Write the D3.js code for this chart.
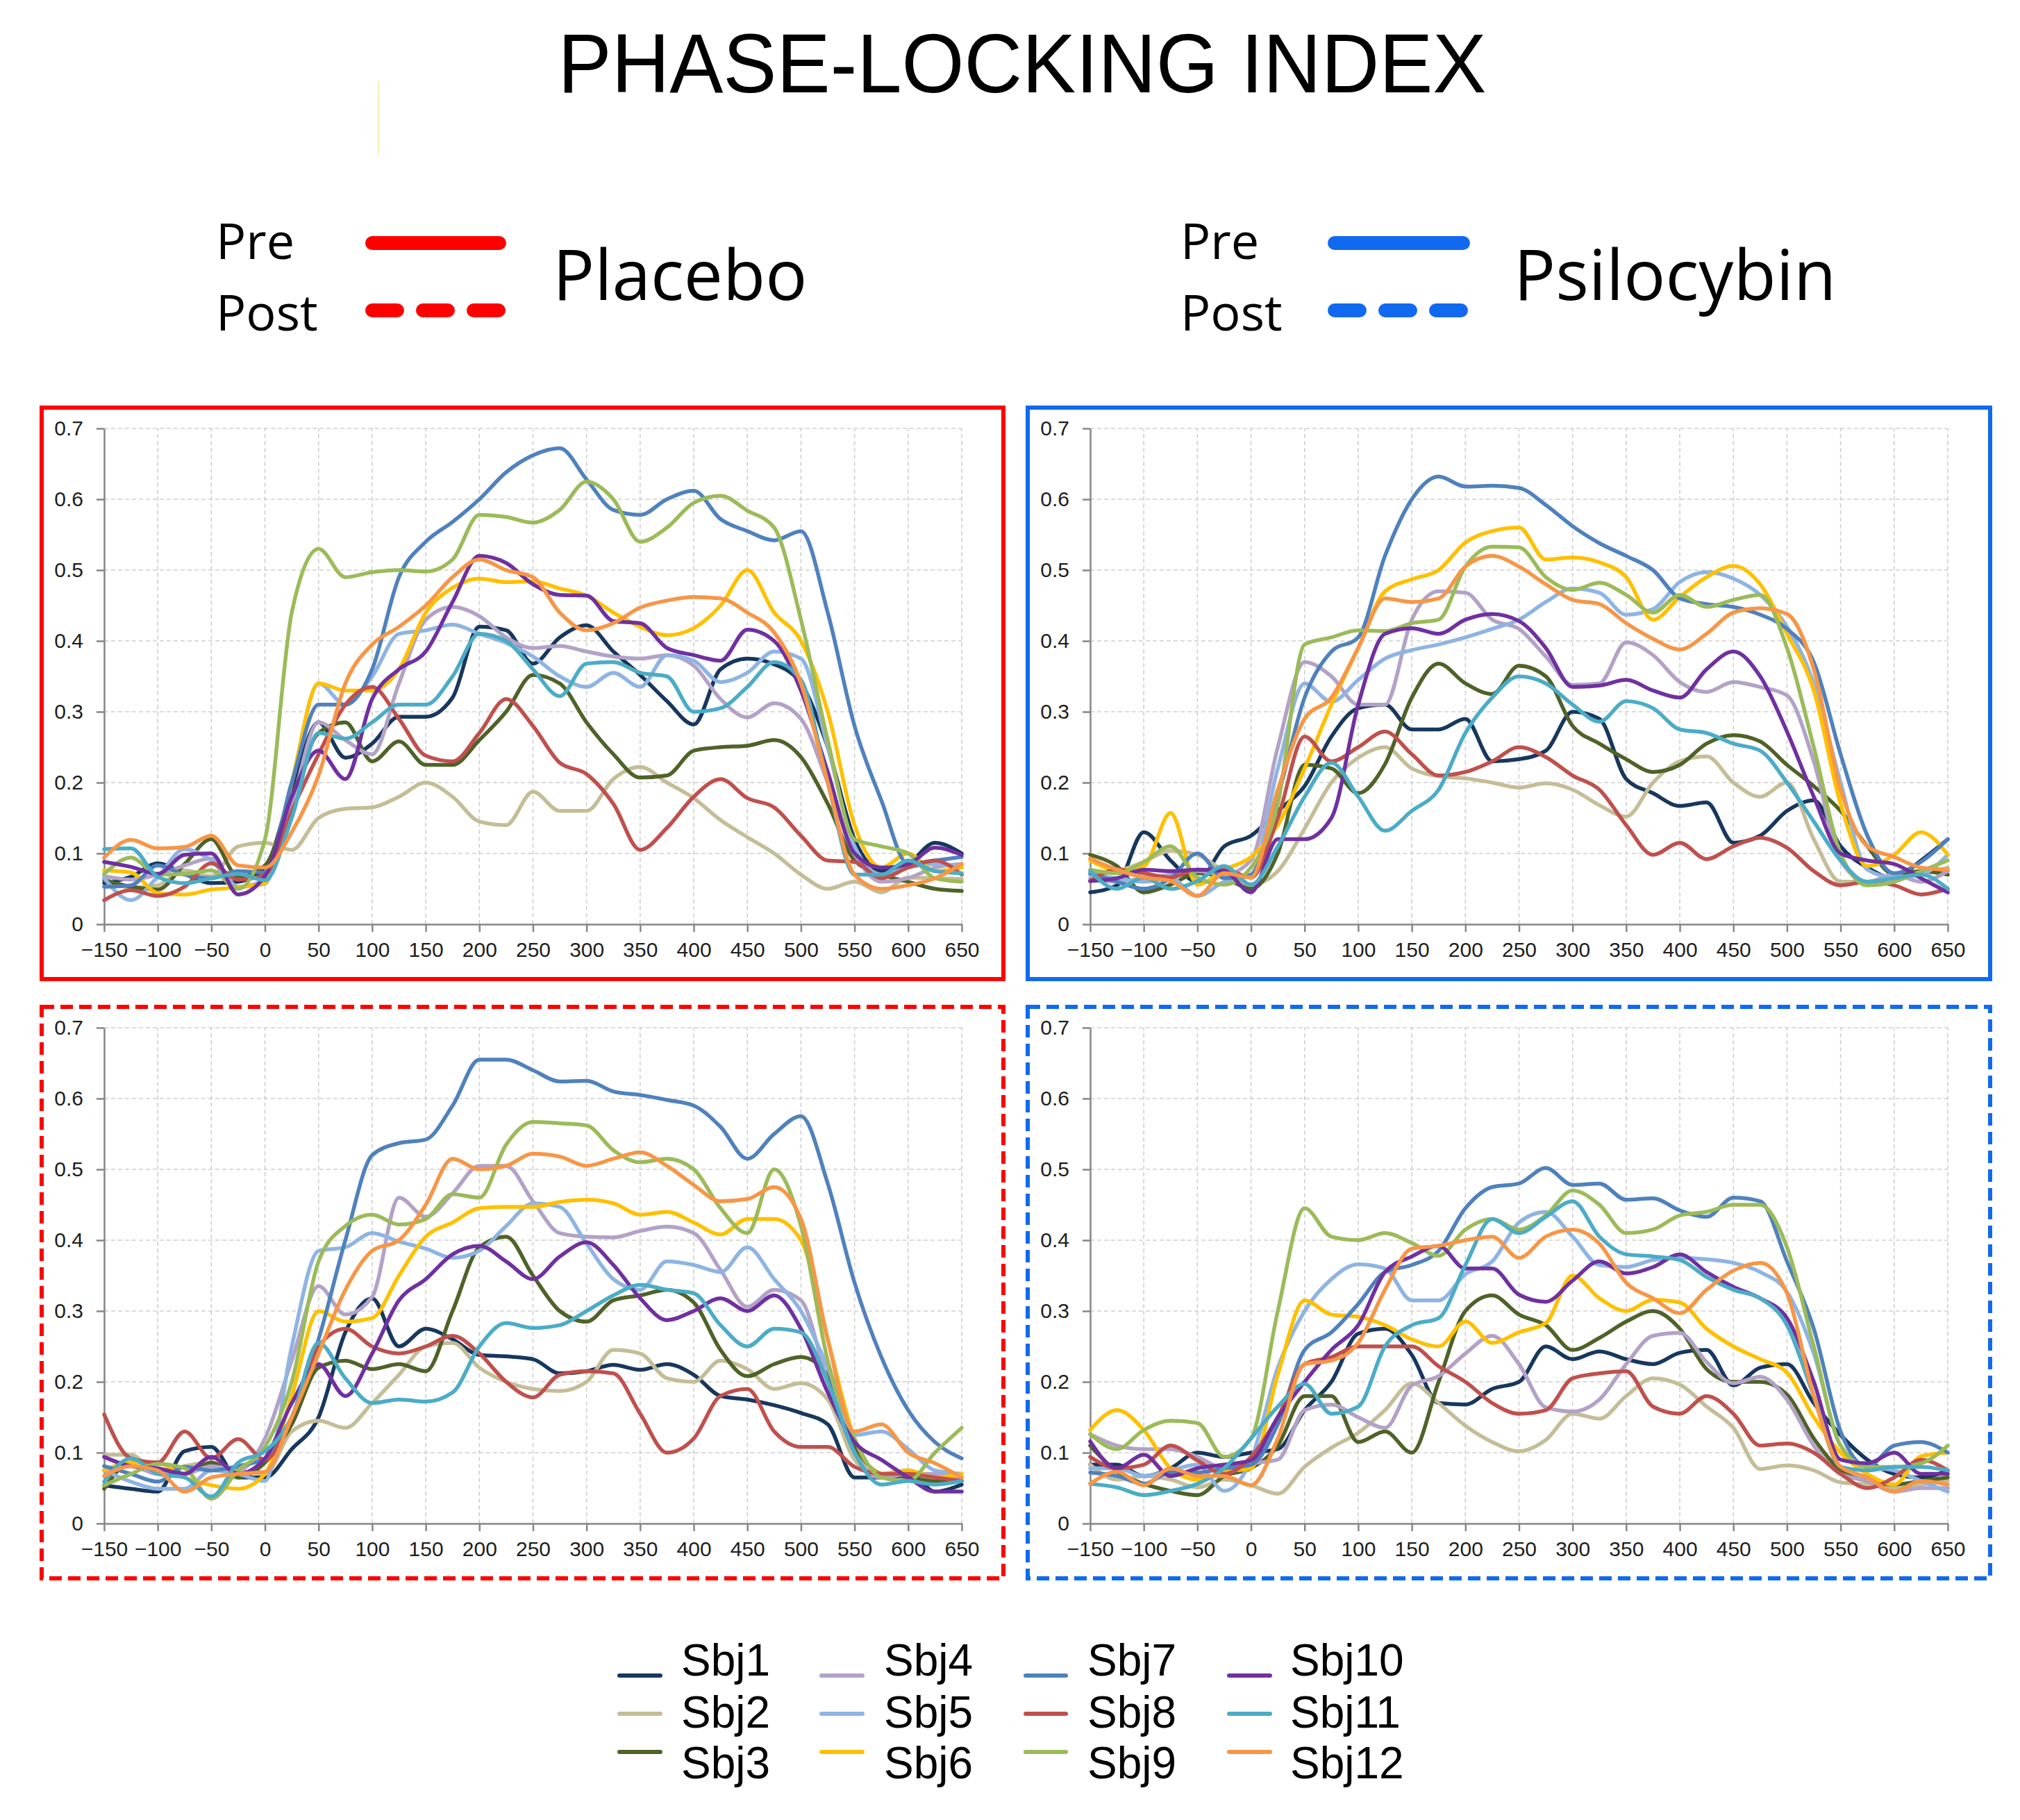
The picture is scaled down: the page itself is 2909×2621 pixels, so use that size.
<!DOCTYPE html>
<html>
<head>
<meta charset="utf-8">
<script src="https://cdn.jsdelivr.net/npm/d3@7"></script>
<style>
  body { margin: 0; background: #fff; }
  svg { display: block; }
</style>
</head>
<body>
<svg id="chart"></svg>
<script>
// time axis (ms) shared by every series
const times = [-150, -125, -100, -75, -50, -25, 0, 25, 50, 75, 100, 125, 150, 175, 200, 225,
  250, 275, 300, 325, 350, 375, 400, 425, 450, 475, 500, 525, 550, 575, 600, 625, 650];

const subjects = ['Sbj1', 'Sbj2', 'Sbj3', 'Sbj4', 'Sbj5', 'Sbj6', 'Sbj7', 'Sbj8', 'Sbj9', 'Sbj10', 'Sbj11', 'Sbj12'];
const colors = ['#17375E', '#C4BD97', '#4F6228', '#B3A2C7', '#8EB4E3', '#FFC000',
  '#4F81BD', '#C0504D', '#9BBB59', '#7030A0', '#4BACC6', '#F79646'];

const xTicks = [-150, -100, -50, 0, 50, 100, 150, 200, 250, 300, 350, 400, 450, 500, 550, 600, 650];
const yTicks = [0, 0.1, 0.2, 0.3, 0.4, 0.5, 0.6, 0.7];

// one row per subject
const placeboPre = [
  [.058,.067,.086,.071,.058,.06,.08, .19,.285,.235,.255,.293,.293,.32,.42,.415,.368,.405,.422,.385,.352,.315,.282,.36,.375,.367,.34,.25,.12,.075,.085,.115,.1],
  [.065,.052,.055,.076,.068,.11,.115, .105,.15,.163,.165,.18,.2,.18,.145,.14,.187,.16,.16,.205,.222,.2,.178,.147,.123,.1,.07,.05,.06,.045,.066,.065,.064],
  [.062,.053,.049,.085,.12,.067,.083, .18,.27,.285,.23,.258,.225,.225,.26,.3,.352,.34,.285,.24,.207,.21,.245,.25,.252,.26,.236,.17,.09,.07,.06,.05,.047],
  [.068,.063,.07,.083,.093,.053,.062, .17,.285,.26,.24,.34,.43,.448,.435,.405,.39,.393,.385,.378,.375,.38,.365,.318,.292,.312,.29,.2,.1,.06,.065,.08,.085],
  [.065,.034,.067,.106,.09,.053,.057, .2,.34,.31,.35,.41,.415,.423,.41,.397,.378,.35,.335,.355,.335,.38,.372,.342,.355,.385,.375,.25,.11,.07,.08,.085,.08],
  [.076,.073,.044,.042,.049,.052,.058, .2,.34,.33,.33,.36,.44,.475,.488,.483,.484,.474,.464,.44,.42,.408,.418,.45,.5,.44,.4,.3,.14,.08,.1,.075,.08],
  [.053,.055,.083,.07,.065,.075,.073, .2,.31,.31,.36,.49,.54,.568,.6,.638,.662,.672,.628,.585,.578,.6,.612,.572,.555,.542,.555,.44,.28,.175,.085,.09,.095],
  [.034,.048,.04,.053,.086,.063,.07, .16,.24,.31,.335,.29,.238,.23,.27,.318,.28,.228,.212,.17,.105,.136,.18,.205,.178,.165,.125,.09,.088,.065,.08,.09,.07],
  [.071,.094,.07,.071,.076,.05,.12, .44,.53,.49,.497,.5,.498,.515,.578,.575,.567,.585,.625,.6,.54,.56,.595,.605,.584,.56,.43,.26,.12,.11,.1,.065,.06],
  [.088,.081,.071,.098,.1,.042,.068, .18,.245,.205,.318,.36,.385,.455,.52,.51,.48,.465,.464,.428,.425,.39,.38,.372,.416,.4,.33,.215,.1,.08,.085,.108,.098],
  [.106,.107,.067,.058,.065,.071,.062, .15,.27,.262,.285,.31,.31,.35,.41,.4,.36,.322,.368,.37,.355,.35,.3,.305,.335,.37,.345,.2,.07,.07,.09,.075,.072],
  [.094,.119,.107,.109,.125,.083,.08, .13,.21,.34,.395,.42,.45,.49,.515,.5,.49,.44,.415,.425,.447,.457,.462,.46,.44,.412,.34,.2,.07,.05,.055,.065,.085]
];

const psilocybinPre = [
  [.045,.055,.13,.09,.06,.11,.125, .16,.195,.265,.305,.31,.275,.275,.29,.23,.233,.245,.3,.29,.205,.185,.167,.172,.115,.125,.16,.175,.11,.08,.065,.09,.12],
  [.07,.075,.088,.104,.098,.075,.056, .075,.135,.2,.235,.25,.22,.209,.206,.2,.193,.199,.19,.168,.152,.2,.23,.237,.2,.18,.2,.12,.06,.06,.065,.07,.08],
  [.098,.082,.045,.056,.072,.066,.05, .1,.225,.22,.185,.226,.32,.368,.34,.325,.365,.35,.28,.255,.233,.215,.225,.255,.267,.258,.225,.195,.16,.11,.07,.075,.07],
  [.065,.06,.065,.07,.075,.07,.09, .25,.37,.35,.31,.31,.43,.47,.468,.43,.417,.378,.338,.34,.398,.38,.342,.328,.342,.335,.323,.23,.09,.06,.07,.06,.075],
  [.07,.065,.06,.065,.04,.06,.07, .22,.34,.314,.345,.375,.387,.395,.405,.417,.43,.455,.474,.468,.437,.445,.483,.497,.488,.465,.42,.34,.2,.077,.066,.07,.098],
  [.09,.077,.082,.157,.056,.077,.095, .14,.22,.31,.39,.47,.487,.5,.539,.555,.56,.515,.518,.511,.49,.43,.462,.49,.506,.48,.41,.33,.17,.082,.098,.13,.098],
  [.072,.06,.05,.065,.1,.065,.07, .18,.32,.385,.405,.52,.6,.632,.618,.619,.616,.592,.562,.538,.52,.5,.46,.452,.448,.437,.417,.37,.24,.125,.072,.088,.12],
  [.061,.077,.072,.066,.077,.077,.066, .15,.265,.23,.25,.272,.24,.21,.215,.23,.25,.236,.21,.19,.14,.098,.115,.092,.11,.122,.108,.075,.055,.06,.055,.042,.05],
  [.077,.072,.088,.11,.066,.056,.08, .17,.395,.405,.415,.414,.425,.43,.505,.533,.532,.49,.472,.482,.465,.44,.465,.448,.458,.465,.39,.25,.1,.055,.06,.075,.09],
  [.061,.065,.077,.075,.077,.075,.045, .12,.12,.15,.31,.41,.418,.41,.43,.438,.428,.39,.335,.337,.345,.33,.32,.36,.385,.35,.272,.18,.1,.09,.085,.065,.045],
  [.075,.05,.066,.05,.061,.082,.056, .11,.18,.228,.18,.132,.16,.19,.27,.32,.35,.34,.31,.286,.315,.305,.275,.27,.255,.245,.2,.145,.09,.06,.065,.07,.05],
  [.093,.077,.066,.061,.04,.072,.066, .19,.29,.32,.39,.46,.455,.46,.505,.52,.505,.48,.458,.452,.425,.403,.388,.41,.44,.446,.438,.36,.19,.11,.095,.08,.077]
];

const placeboPost = [
  [.054,.049,.045,.102,.108,.065,.065, .105,.15,.27,.318,.25,.275,.26,.238,.236,.232,.212,.215,.224,.217,.225,.21,.18,.175,.167,.156,.14,.065,.065,.075,.045,.055],
  [.097,.097,.07,.081,.086,.075,.07, .13,.145,.135,.17,.21,.25,.255,.22,.2,.19,.187,.2,.245,.24,.205,.2,.23,.218,.19,.198,.175,.09,.065,.07,.065,.065],
  [.049,.086,.086,.07,.086,.065,.086, .14,.22,.23,.218,.225,.215,.3,.39,.405,.35,.3,.285,.315,.322,.33,.312,.245,.208,.225,.235,.21,.11,.07,.065,.06,.06],
  [.075,.081,.07,.07,.081,.075,.12, .23,.335,.295,.32,.46,.433,.466,.505,.505,.455,.41,.405,.404,.413,.419,.41,.358,.306,.33,.315,.2,.1,.065,.07,.07,.065],
  [.075,.059,.049,.049,.075,.07,.06, .25,.385,.39,.41,.398,.388,.375,.385,.42,.452,.447,.395,.345,.33,.37,.365,.355,.39,.345,.3,.22,.125,.13,.105,.075,.07],
  [.075,.086,.086,.065,.054,.049,.07, .18,.3,.285,.29,.35,.405,.425,.445,.447,.447,.454,.457,.452,.436,.44,.425,.408,.43,.43,.4,.26,.12,.07,.075,.065,.07],
  [.081,.07,.059,.08,.075,.081,.092, .15,.26,.4,.52,.537,.542,.59,.655,.655,.64,.624,.625,.61,.605,.598,.59,.56,.515,.55,.575,.48,.34,.235,.16,.115,.092],
  [.154,.092,.086,.13,.092,.119,.09, .15,.25,.275,.25,.24,.25,.265,.24,.2,.178,.21,.215,.212,.155,.1,.12,.18,.19,.13,.108,.108,.08,.07,.07,.065,.06],
  [.054,.07,.084,.078,.035,.075,.108, .2,.37,.42,.436,.422,.43,.465,.46,.535,.567,.565,.562,.527,.51,.515,.5,.445,.41,.5,.42,.23,.12,.065,.06,.1,.135],
  [.094,.081,.078,.07,.094,.07,.092, .17,.225,.18,.24,.315,.345,.38,.392,.37,.345,.377,.397,.365,.318,.287,.3,.318,.3,.322,.275,.185,.115,.09,.065,.045,.045],
  [.059,.092,.07,.065,.038,.086,.102, .15,.255,.205,.17,.175,.172,.185,.25,.283,.276,.28,.3,.322,.337,.33,.325,.28,.25,.275,.27,.2,.1,.055,.06,.055,.06],
  [.067,.081,.075,.045,.065,.07,.073, .15,.24,.33,.385,.4,.45,.515,.5,.505,.522,.518,.505,.515,.524,.505,.478,.455,.458,.475,.43,.26,.13,.14,.1,.085,.065]
];

const psilocybinPost = [
  [.083,.083,.067,.078,.1,.094,.1, .105,.16,.2,.268,.275,.238,.17,.168,.19,.2,.25,.232,.243,.232,.225,.241,.245,.195,.22,.225,.17,.125,.09,.07,.065,.075],
  [.083,.062,.067,.062,.051,.062,.054, .042,.08,.107,.128,.16,.198,.17,.138,.115,.102,.118,.155,.148,.18,.205,.196,.165,.135,.077,.082,.075,.058,.055,.05,.055,.06],
  [.11,.073,.056,.046,.04,.067,.078, .11,.18,.18,.115,.13,.1,.2,.3,.322,.295,.28,.245,.262,.285,.3,.275,.218,.2,.2,.182,.12,.075,.06,.055,.06,.065],
  [.126,.11,.105,.105,.094,.078,.085, .09,.16,.168,.15,.135,.195,.208,.24,.265,.225,.164,.158,.175,.225,.265,.269,.228,.198,.207,.175,.11,.07,.06,.045,.05,.05],
  [.078,.078,.067,.075,.083,.046,.09, .22,.3,.345,.366,.36,.315,.315,.352,.37,.425,.44,.405,.365,.362,.372,.375,.373,.368,.355,.327,.24,.11,.08,.075,.06,.045],
  [.132,.16,.132,.078,.062,.073,.078, .21,.315,.295,.292,.28,.26,.25,.285,.255,.27,.283,.35,.318,.3,.316,.312,.275,.25,.232,.213,.15,.1,.07,.055,.095,.1],
  [.072,.067,.056,.072,.072,.078,.083, .14,.245,.27,.31,.355,.365,.385,.445,.475,.48,.502,.478,.48,.457,.459,.442,.433,.46,.455,.37,.275,.13,.08,.11,.115,.1],
  [.094,.078,.083,.11,.089,.07,.094, .15,.225,.235,.25,.25,.25,.222,.2,.17,.155,.16,.205,.212,.215,.165,.155,.18,.155,.11,.113,.1,.07,.05,.065,.09,.075],
  [.126,.105,.132,.145,.142,.094,.12, .3,.445,.405,.4,.41,.396,.378,.415,.43,.415,.435,.47,.45,.41,.415,.435,.44,.45,.45,.39,.25,.11,.08,.08,.085,.11],
  [.116,.078,.097,.067,.078,.083,.089, .15,.2,.245,.28,.355,.377,.392,.36,.36,.323,.313,.343,.37,.353,.362,.38,.355,.334,.318,.29,.2,.09,.085,.1,.07,.07],
  [.056,.051,.04,.046,.056,.078,.12, .165,.197,.155,.165,.25,.28,.29,.365,.43,.41,.433,.455,.405,.38,.377,.372,.348,.33,.318,.28,.18,.08,.075,.08,.08,.075],
  [.056,.073,.054,.078,.067,.067,.054, .12,.225,.23,.255,.33,.388,.392,.4,.405,.375,.405,.415,.395,.34,.318,.297,.33,.357,.368,.325,.18,.08,.065,.045,.06,.055]
];

const RED = '#ff0000';
const BLUE = '#1169f0';
const AXIS = '#868686';
const GRID = '#cfcfcf';
const SANS = "'Liberation Sans', Arial, sans-serif";
const LEGEND_FONT = "'Open Sans', 'Noto Sans', sans-serif";

const svg = d3.select('#chart')
    .attr('width', 2909)
    .attr('height', 2621);

// title
svg.append('text')
    .attr('x', 1472)
    .attr('y', 133)
    .attr('text-anchor', 'middle')
    .attr('font-family', SANS)
    .attr('font-size', 121)
    .attr('textLength', 1337)
    .attr('lengthAdjust', 'spacingAndGlyphs')
    .text('PHASE-LOCKING INDEX');

// stray mark under the title
svg.append('line')
    .attr('x1', 545).attr('x2', 545)
    .attr('y1', 118).attr('y2', 222)
    .attr('stroke', '#f3eeb0')
    .attr('stroke-width', 2);

// condition legend at the top
const conditions = [
  {name: 'Placebo', color: RED, textX: 311, lineX: [536, 719], nameX: 796},
  {name: 'Psilocybin', color: BLUE, textX: 1700, lineX: [1922, 2107], nameX: 2180}
];

conditions.forEach(c => {
  const g = svg.append('g');
  g.append('text').attr('x', c.textX).attr('y', 373)
      .attr('font-family', LEGEND_FONT).attr('font-size', 72).text('Pre');
  g.append('text').attr('x', c.textX).attr('y', 476)
      .attr('font-family', LEGEND_FONT).attr('font-size', 72).text('Post');
  g.append('line')
      .attr('x1', c.lineX[0]).attr('x2', c.lineX[1])
      .attr('y1', 350).attr('y2', 350)
      .attr('stroke', c.color).attr('stroke-width', 20).attr('stroke-linecap', 'round');
  g.append('line')
      .attr('x1', c.lineX[0]).attr('x2', c.lineX[1])
      .attr('y1', 447).attr('y2', 447)
      .attr('stroke', c.color).attr('stroke-width', 20).attr('stroke-linecap', 'round')
      .attr('stroke-dasharray', '36,37');
  g.append('text').attr('x', c.nameX).attr('y', 432)
      .attr('font-family', LEGEND_FONT).attr('font-size', 100).text(c.name);
});

// panel layout
const columns = [
  {box: [60, 1445], plot: [150, 1385]},
  {box: [1480, 2866], plot: [1570, 2805]}
];
const rows = [
  {box: [587, 1410], plot: [617, 1331]},
  {box: [1450, 2273], plot: [1480, 2194]}
];

const panels = [
  {data: placeboPre, col: 0, row: 0, color: RED, dashed: false},
  {data: psilocybinPre, col: 1, row: 0, color: BLUE, dashed: false},
  {data: placeboPost, col: 0, row: 1, color: RED, dashed: true},
  {data: psilocybinPost, col: 1, row: 1, color: BLUE, dashed: true}
];

const fmtX = d => d < 0 ? '\u2212' + Math.abs(d) : String(d);
const fmtY = d => d === 0 ? '0' : d3.format('.1f')(d);

panels.forEach(p => {
  const col = columns[p.col];
  const row = rows[p.row];

  const x = d3.scaleLinear().domain([-150, 650]).range(col.plot);
  const y = d3.scaleLinear().domain([0, 0.7]).range([row.plot[1], row.plot[0]]);

  const g = svg.append('g');

  g.append('rect')
      .attr('x', col.box[0])
      .attr('y', row.box[0])
      .attr('width', col.box[1] - col.box[0])
      .attr('height', row.box[1] - row.box[0])
      .attr('fill', 'none')
      .attr('stroke', p.color)
      .attr('stroke-width', 6)
      .attr('stroke-dasharray', p.dashed ? '18,9' : null);

  // dashed grid
  g.append('g').selectAll('line')
      .data(yTicks.slice(1))
      .join('line')
      .attr('x1', x(-150)).attr('x2', x(650))
      .attr('y1', d => y(d)).attr('y2', d => y(d))
      .attr('stroke', GRID).attr('stroke-width', 1.6)
      .attr('stroke-dasharray', '6,4');

  g.append('g').selectAll('line')
      .data(xTicks.slice(1))
      .join('line')
      .attr('x1', d => x(d)).attr('x2', d => x(d))
      .attr('y1', y(0)).attr('y2', y(0.7))
      .attr('stroke', GRID).attr('stroke-width', 1.6)
      .attr('stroke-dasharray', '6,4');

  const styleAxis = a => {
    a.select('.domain').attr('stroke', AXIS).attr('stroke-width', 2.5);
    a.selectAll('.tick line').attr('stroke', AXIS).attr('stroke-width', 2.5);
    a.selectAll('.tick text')
        .attr('font-family', SANS)
        .attr('font-size', 30)
        .attr('fill', '#1e1e1e');
  };

  g.append('g')
      .attr('transform', `translate(${x(-150)},0)`)
      .call(d3.axisLeft(y).tickValues(yTicks).tickFormat(fmtY)
          .tickSize(11).tickSizeOuter(0).tickPadding(19))
      .call(styleAxis);

  g.append('g')
      .attr('transform', `translate(0,${y(0)})`)
      .call(d3.axisBottom(x).tickValues(xTicks).tickFormat(fmtX)
          .tickSize(11).tickSizeOuter(0).tickPadding(15))
      .call(styleAxis);

  const line = d3.line()
      .x((d, i) => x(times[i]))
      .y(d => y(d))
      .curve(d3.curveMonotoneX);

  g.append('g').selectAll('path')
      .data(p.data)
      .join('path')
      .attr('d', line)
      .attr('fill', 'none')
      .attr('stroke', (d, i) => colors[i])
      .attr('stroke-width', 5.5)
      .attr('stroke-linejoin', 'round')
      .attr('stroke-linecap', 'round');
});

// subject legend
const legendCols = [
  {lineX: [892, 951], textX: 981},
  {lineX: [1183, 1242], textX: 1273},
  {lineX: [1477, 1535], textX: 1566},
  {lineX: [1770, 1829], textX: 1858}
];
const legendLineY = [2413, 2468, 2523];
const legendTextY = [2413, 2488, 2561];

const legend = svg.append('g');
subjects.forEach((s, i) => {
  const c = legendCols[Math.floor(i / 3)];
  const r = i % 3;
  legend.append('line')
      .attr('x1', c.lineX[0]).attr('x2', c.lineX[1])
      .attr('y1', legendLineY[r]).attr('y2', legendLineY[r])
      .attr('stroke', colors[i])
      .attr('stroke-width', 6)
      .attr('stroke-linecap', 'round');
  legend.append('text')
      .attr('x', c.textX)
      .attr('y', legendTextY[r])
      .attr('font-family', SANS)
      .attr('font-size', 64)
      .text(s);
});
</script>
</body>
</html>
